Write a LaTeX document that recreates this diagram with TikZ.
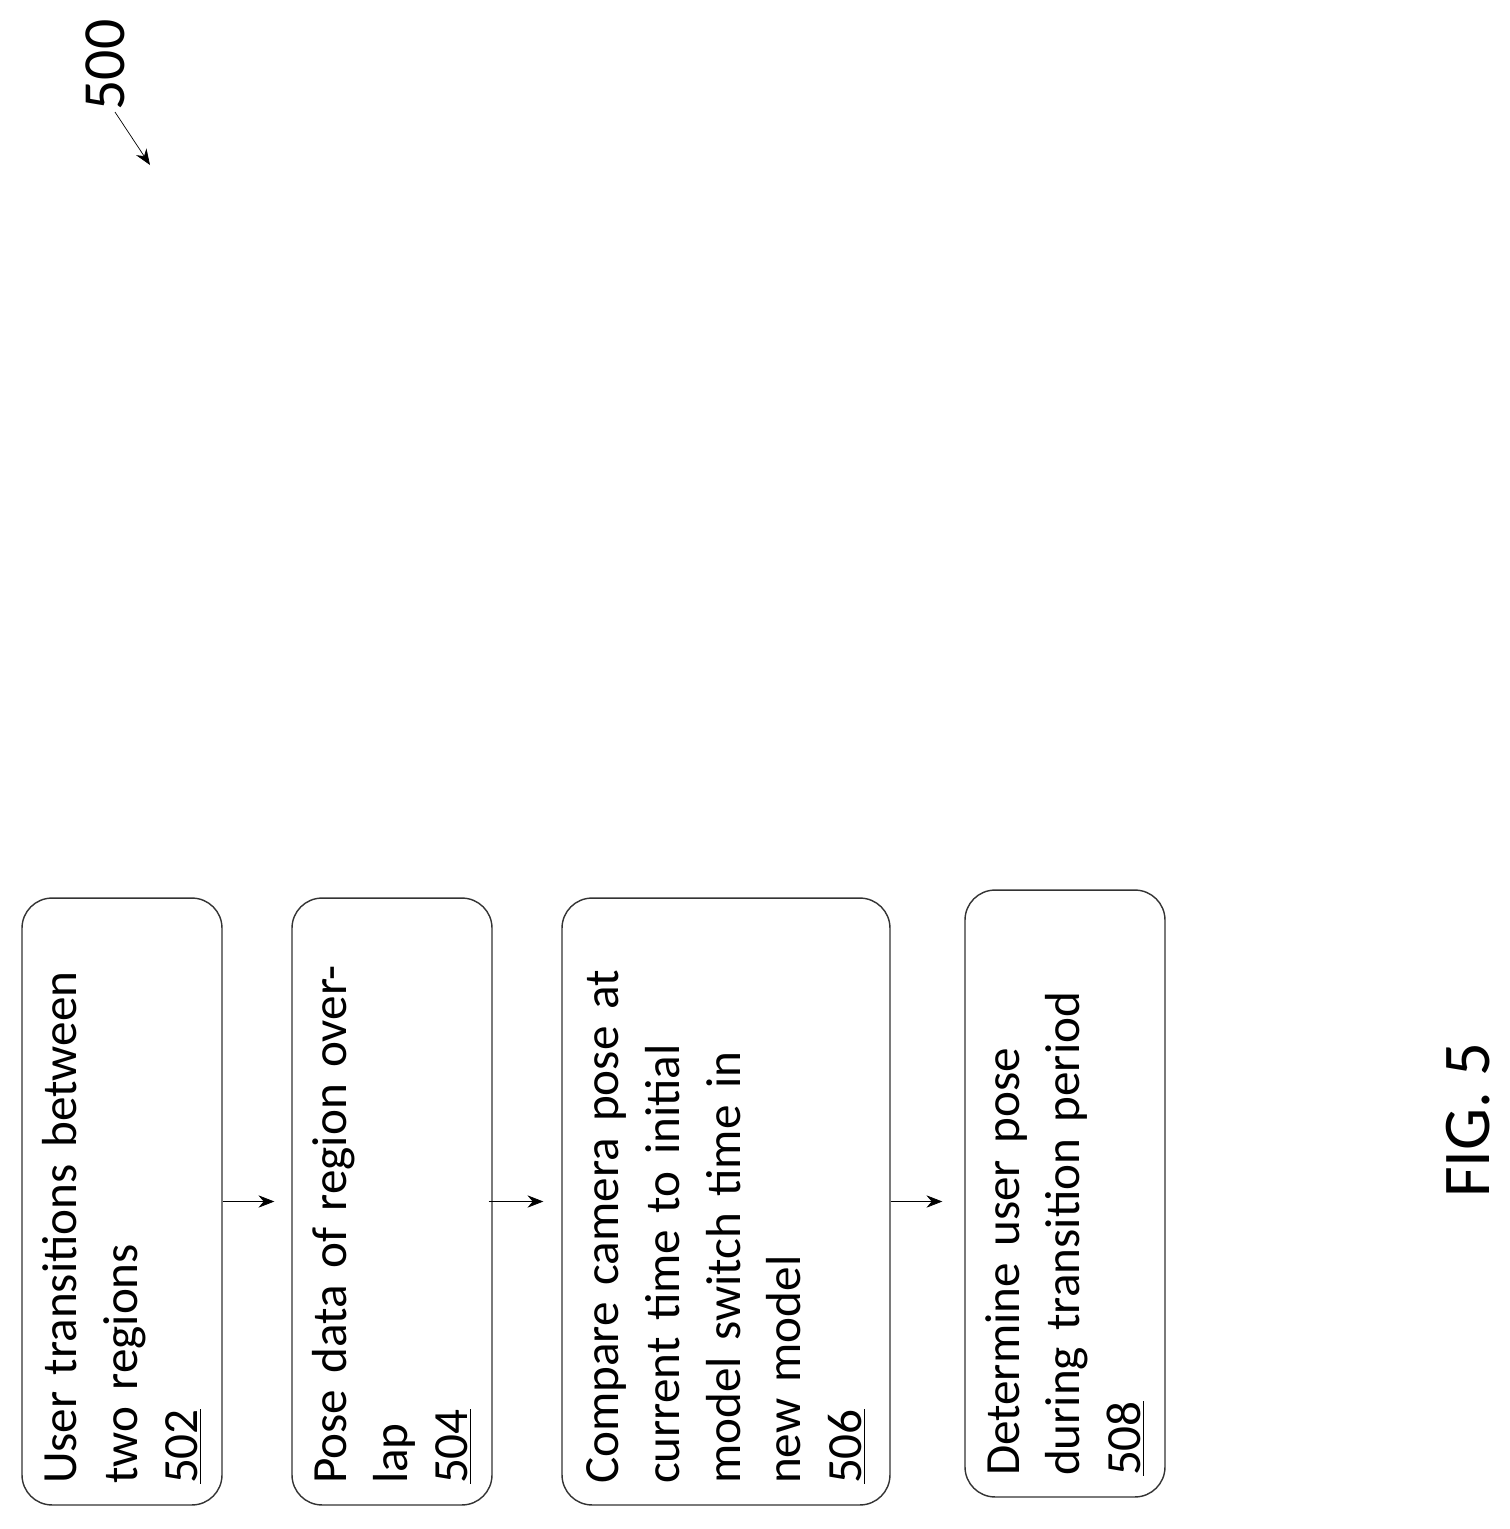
\documentclass[tikz,border=0pt]{standalone}
\usepackage{fontspec}
\setmainfont{Carlito}
\usetikzlibrary{arrows.meta}
\begin{document}
\begin{tikzpicture}[x=0.02cm, y=-0.02cm,
    stepbox/.style={draw=black!80, thick, rounded corners=0.6cm, rotate=90,
        minimum width=12.14cm, text width=11.3cm, align=left, inner sep=0pt,
        font=\fontsize{28}{34.5}\selectfont},
    flow/.style={-{Stealth[length=9pt, width=7pt]}, thin}]
    \useasboundingbox (0,0) rectangle (1509,1529);
    %Boxes
    \node[stepbox, minimum height=4cm] at (122, 1201.5) (s502) {User transitions between\\two regions\\\underline{502}};
    \node[stepbox, minimum height=4cm] at (392, 1201.5) (s504) {Pose data of region overlap\\\underline{504}};
    \node[stepbox, minimum height=6.56cm] at (726, 1201.5) (s506) {Compare camera pose at\\current time to initial\\model switch time in\\new model\\\underline{506}};
    \node[stepbox, minimum height=4cm] at (1065, 1193.5) (s508) {Determine user pose\\during transition period\\\underline{508}};
    %Labels
    \node[rotate=90, font=\fontsize{34}{40}\selectfont] at (105, 65) (lbl) {500};
    \coordinate (lblstart) at (115, 112);
    \coordinate (lblend) at (150, 165);
    \node[rotate=90, font=\fontsize{38}{44}\selectfont] at (1468, 1120) (fig) {FIG. 5};
    %Lines
    \draw[flow, shorten >=17*0.02cm] (s502.south) -- (s504.north);
    \draw[flow, shorten <=-4*0.02cm, shorten >=18*0.02cm] (s504.south) -- (s506.north);
    \draw[flow, shorten >=22*0.02cm] (s506.south) -- (s508.north |- s506.south);
    \draw[flow] (lblstart) -- (lblend);
\end{tikzpicture}
\end{document}
